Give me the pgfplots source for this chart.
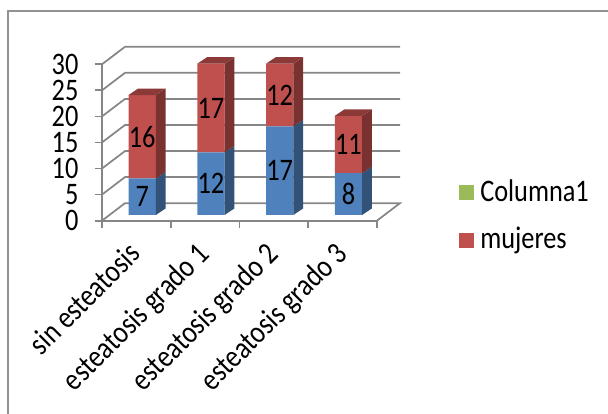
\documentclass[border=0pt]{standalone}
\usepackage{pgfplots}
\pgfplotsset{compat=1.18}
\usepackage{fontspec}
\setmainfont[FakeStretch=0.84]{Carlito}
\definecolor{barblue}{RGB}{79,129,189}
\definecolor{barblueside}{RGB}{50,82,120}
\definecolor{barred}{RGB}{192,80,77}
\definecolor{barredside}{RGB}{122,50,48}
\definecolor{barredtop}{RGB}{140,58,56}
\definecolor{legendgreen}{RGB}{155,187,89}
\definecolor{wall}{RGB}{134,134,134}
\newcommand{\chartfont}{\fontsize{23.5pt}{25pt}\selectfont}
\pgfplotsset{
  chart box/.style={
    scale only axis, width=206.25pt, height=117.3pt,
    xmin=0, xmax=4, ymin=0, ymax=30, clip=false, anchor=south west,
  },
  wall line/.style={no marks, draw=wall, line width=1.3pt, forget plot},
}
\begin{document}
\begin{tikzpicture}[x=0.75pt,y=0.75pt]
\useasboundingbox (0,0) rectangle (608,414);
% outer chart frame
\draw[draw=wall!90, line width=1.1pt] (8,-4) -- (8,403) -- (612,403);

% box walls, floor and the two axes
\begin{axis}[chart box, at={(76.5pt,145pt)},
  axis x line*=bottom, axis y line*=left,
  axis line style={draw=wall, line width=1.3pt, -},
  tick style={draw=wall, line width=1.3pt},
  xtick={0,1,2,3,4}, xticklabels={},
  extra x ticks={0.5,1.5,2.5,3.5},
  extra x tick style={tick style={draw=none}},
  extra x tick labels={sin esteatosis,esteatosis grado 1,esteatosis grado 2,esteatosis grado 3},
  xticklabel style={font=\chartfont, xshift=-7pt, yshift=-9pt, rotate=45, anchor=north east, inner sep=0pt},
  ytick={0,5,10,15,20,25,30},
  yticklabel style={font=\chartfont, inner sep=2pt, xshift=-10pt},
  tick align=outside, major tick length=5.5pt,
  /pgf/number format/assume math mode=true,
]
\addplot[wall line] coordinates {(0,0) (0.335,3.36) (4.335,3.36) (4,0)};
\addplot[wall line] coordinates {(0,5) (0.335,8.36) (4.335,8.36)};
\addplot[wall line] coordinates {(0,10) (0.335,13.36) (4.335,13.36)};
\addplot[wall line] coordinates {(0,15) (0.335,18.36) (4.335,18.36)};
\addplot[wall line] coordinates {(0,20) (0.335,23.36) (4.335,23.36)};
\addplot[wall line] coordinates {(0,25) (0.335,28.36) (4.335,28.36)};
\addplot[wall line] coordinates {(0,30) (0.335,33.36) (4.335,33.36)};
\end{axis}

% stacked columns, on a plane set back from the front of the box
\begin{axis}[chart box, at={(80.9pt,149.3pt)}, hide axis,
  ybar stacked, bar width=20.6pt]
\addplot[fill=barblue, draw=none] coordinates {(0.5,7) (1.5,12) (2.5,17) (3.5,8)};
\addplot[fill=barred, draw=none] coordinates {(0.5,16) (1.5,17) (2.5,12) (3.5,11)};
\end{axis}

% side and top faces of the columns
\begin{axis}[chart box, at={(80.9pt,149.3pt)}, hide axis]
\addplot[fill=barblueside, draw=none] coordinates {(0.7,0) (0.841,1.25) (0.841,8.25) (0.7,7)} -- cycle;
\addplot[fill=barredside, draw=none] coordinates {(0.7,7) (0.841,8.25) (0.841,24.25) (0.7,23)} -- cycle;
\addplot[fill=barredtop, draw=none] coordinates {(0.3,23) (0.441,24.25) (0.841,24.25) (0.7,23)} -- cycle;
\addplot[fill=barblueside, draw=none] coordinates {(1.7,0) (1.841,1.25) (1.841,13.25) (1.7,12)} -- cycle;
\addplot[fill=barredside, draw=none] coordinates {(1.7,12) (1.841,13.25) (1.841,30.25) (1.7,29)} -- cycle;
\addplot[fill=barredtop, draw=none] coordinates {(1.3,29) (1.441,30.25) (1.841,30.25) (1.7,29)} -- cycle;
\addplot[fill=barblueside, draw=none] coordinates {(2.7,0) (2.841,1.25) (2.841,18.25) (2.7,17)} -- cycle;
\addplot[fill=barredside, draw=none] coordinates {(2.7,17) (2.841,18.25) (2.841,30.25) (2.7,29)} -- cycle;
\addplot[fill=barredtop, draw=none] coordinates {(2.3,29) (2.441,30.25) (2.841,30.25) (2.7,29)} -- cycle;
\addplot[fill=barblueside, draw=none] coordinates {(3.7,0) (3.841,1.25) (3.841,9.25) (3.7,8)} -- cycle;
\addplot[fill=barredside, draw=none] coordinates {(3.7,8) (3.841,9.25) (3.841,20.25) (3.7,19)} -- cycle;
\addplot[fill=barredtop, draw=none] coordinates {(3.3,19) (3.441,20.25) (3.841,20.25) (3.7,19)} -- cycle;
\end{axis}

% value labels centred on each segment
\begin{axis}[chart box, at={(80.9pt,149.3pt)}, hide axis,
  nodes near coords, point meta=explicit,
  every node near coord/.append style={font=\chartfont, anchor=center, text=black,
    /pgf/number format/assume math mode=true},
]
\addplot[draw=none, mark=none] coordinates {(0.5,3.5)[7] (1.5,6)[12] (2.5,8.5)[17] (3.5,4)[8]};
\addplot[draw=none, mark=none] coordinates {(0.5,15)[16] (1.5,20.5)[17] (2.5,23)[12] (3.5,13.5)[11]};
\end{axis}

% legend
\fill[legendgreen] (459,214) rectangle (474,229);
\fill[barred] (459,166) rectangle (474,181);
\node[anchor=west, inner sep=0pt, font=\chartfont] at (480,223) {Columna1};
\node[anchor=west, inner sep=0pt, font=\chartfont] at (480,174) {mujeres};
\end{tikzpicture}
\end{document}
